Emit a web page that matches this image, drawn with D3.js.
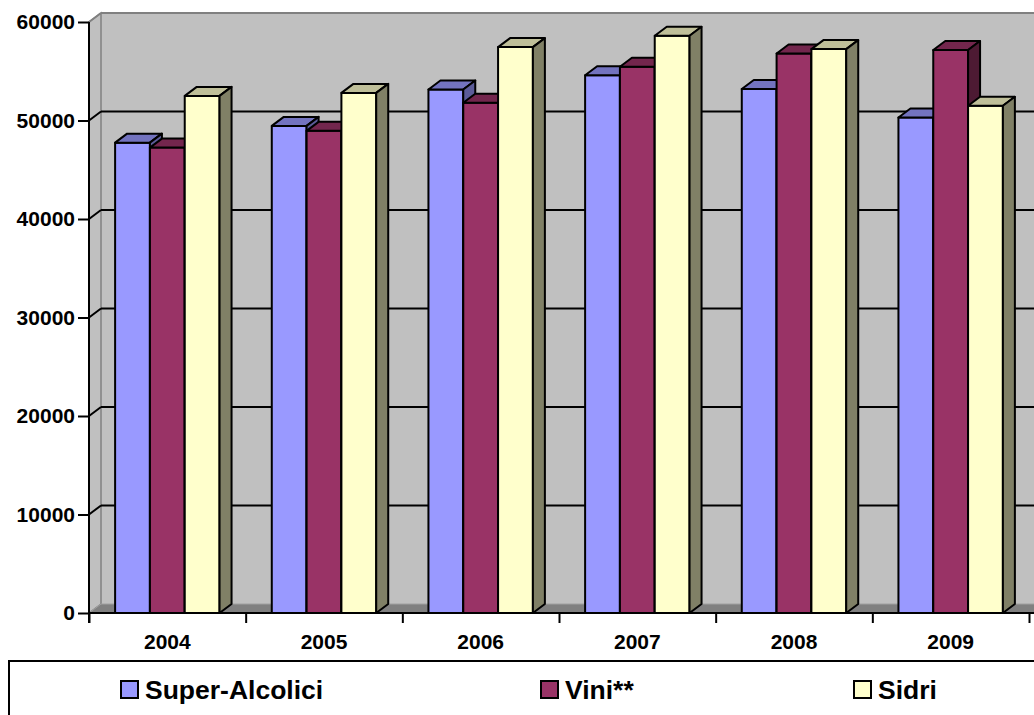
<!DOCTYPE html>
<html>
<head>
<meta charset="utf-8">
<script src="https://cdn.jsdelivr.net/npm/d3@7"></script>
<style>
  body { margin: 0; background: #fff; }
  svg { display: block; font-family: "Liberation Sans", Arial, sans-serif; font-weight: bold; }
</style>
</head>
<body>
<svg id="chart" width="1034" height="715"></svg>
<script>
// data
const years = ["2004", "2005", "2006", "2007", "2008", "2009"];
const seriesNames = ["Super-Alcolici", "Vini**", "Sidri"];
const superAlcolici = [47750, 49450, 53150, 54600, 53200, 50300];
const vini = [47250, 48950, 51800, 55450, 56800, 57150];
const sidri = [52500, 52800, 57450, 58600, 57250, 51500];
const yTicks = [0, 10000, 20000, 30000, 40000, 50000, 60000];

const seriesValues = [superAlcolici, vini, sidri];
const colors = [
  {front: "#9999ff", top: "#7373bf", side: "#5c5c99"},
  {front: "#993366", top: "#73264d", side: "#4d1a33"},
  {front: "#ffffcc", top: "#bfbf99", side: "#808066"}
];

const svg = d3.select("#chart");
const plotL = 89, plotR = 1029, plotB = 613, plotT = 22;
const dx = 12, dy = 9; // 3d depth offset

const x = d3.scaleBand().domain(years).range([plotL, plotR]).padding(0);
const xs = d3.scaleBand().domain(seriesNames).range([0, x.bandwidth()]).paddingInner(0).paddingOuter(0.75);
const y = d3.scaleLinear().domain([0, 60000]).range([plotB, plotT]);
const xEdge = d3.scaleLinear().domain([0, years.length]).range([plotL, plotR]);

const pts = a => a.map(p => p.join(",")).join(" ");

// walls and floor
svg.append("rect")
  .attr("x", plotL + dx).attr("y", y(60000) - dy)
  .attr("width", plotR - plotL + 40).attr("height", y(0) - y(60000))
  .attr("fill", "#c0c0c0");
svg.append("polygon")
  .attr("points", pts([[plotL, y(60000)], [plotL + dx, y(60000) - dy], [plotL + dx, y(0) - dy], [plotL, y(0)]]))
  .attr("fill", "#c0c0c0").attr("stroke", "#808080").attr("stroke-width", 1.5);
svg.append("polygon")
  .attr("points", pts([[plotL, y(0)], [plotR + 40, y(0)], [plotR + 40 + dx, y(0) - dy], [plotL + dx, y(0) - dy]]))
  .attr("fill", "#808080").attr("stroke", "#a0a0a0").attr("stroke-width", 1);
svg.append("line")
  .attr("x1", plotL).attr("y1", y(60000)).attr("x2", plotL + dx).attr("y2", y(60000) - dy)
  .attr("stroke", "#808080").attr("stroke-width", 2);
svg.append("line")
  .attr("x1", plotL + dx).attr("y1", y(60000) - dy).attr("x2", 1040).attr("y2", y(60000) - dy)
  .attr("stroke", "#808080").attr("stroke-width", 2);

// gridlines on back wall
const grid = svg.append("g").attr("stroke", "#000").attr("stroke-width", 2);
yTicks.filter(t => t > 0 && t < 60000).forEach(t => {
  grid.append("line").attr("x1", plotL).attr("y1", y(t)).attr("x2", plotL + dx).attr("y2", y(t) - dy);
  grid.append("line").attr("x1", plotL + dx).attr("y1", y(t) - dy).attr("x2", 1040).attr("y2", y(t) - dy);
});

// bars
const bars = svg.append("g").attr("stroke", "#000").attr("stroke-width", 2).attr("stroke-linejoin", "round");
years.forEach((yr, i) => {
  seriesNames.forEach((s, j) => {
    const v = seriesValues[j][i];
    const x0 = x(yr) + xs(s), x1 = x0 + xs.bandwidth();
    const yt = y(v), yb = y(0);
    const c = colors[j];
    bars.append("rect").attr("x", x0).attr("y", yt).attr("width", x1 - x0).attr("height", yb - yt).attr("fill", c.front);
    bars.append("polygon").attr("points", pts([[x0, yt], [x1, yt], [x1 + dx, yt - dy], [x0 + dx, yt - dy]])).attr("fill", c.top);
    bars.append("polygon").attr("points", pts([[x1, yt], [x1 + dx, yt - dy], [x1 + dx, yb - dy], [x1, yb]])).attr("fill", c.side);
  });
});

// y axis
const yAxis = svg.append("g")
  .attr("transform", `translate(${plotL},0)`)
  .call(d3.axisLeft(y).tickValues(yTicks).tickFormat(d3.format("d")).tickSize(11).tickSizeOuter(0).tickPadding(3));
yAxis.select(".domain").attr("stroke", "#000").attr("stroke-width", 2).attr("d", `M0,${plotT}V${plotB + 10}`);
yAxis.selectAll(".tick line").attr("stroke", "#000").attr("stroke-width", 2);
yAxis.selectAll("text").attr("font-size", 21).attr("font-weight", "bold").attr("fill", "#000")
  .attr("font-family", "Liberation Sans, Arial, sans-serif");

// x axis: boundary ticks and labels
const xAxisTicks = svg.append("g")
  .attr("transform", `translate(0,${plotB})`)
  .call(d3.axisBottom(xEdge).tickValues(d3.range(years.length + 1)).tickSize(10).tickSizeOuter(0).tickFormat(""));
xAxisTicks.select(".domain").attr("stroke", "#000").attr("stroke-width", 2).attr("d", `M${plotL},0H1034`);
xAxisTicks.selectAll(".tick line").attr("stroke", "#000").attr("stroke-width", 2);

const xAxis = svg.append("g")
  .attr("transform", `translate(0,${plotB})`)
  .call(d3.axisBottom(x).tickSize(0).tickPadding(21));
xAxis.select(".domain").remove();
xAxis.selectAll("text").attr("font-size", 21).attr("font-weight", "bold").attr("fill", "#000")
  .attr("font-family", "Liberation Sans, Arial, sans-serif");

// legend
svg.append("rect")
  .attr("x", 9).attr("y", 661).attr("width", 1040).attr("height", 80)
  .attr("fill", "#fff").attr("stroke", "#000").attr("stroke-width", 2);
const legendX = [121, 541, 854];
const legend = svg.append("g");
seriesNames.forEach((s, j) => {
  const g = legend.append("g").attr("transform", `translate(${legendX[j]},681)`);
  g.append("rect").attr("width", 17).attr("height", 17)
    .attr("fill", colors[j].front).attr("stroke", "#000").attr("stroke-width", 2);
  g.append("text").attr("x", 24).attr("y", 17.5).attr("font-size", 26.5).text(s);
});
</script>
</body>
</html>
